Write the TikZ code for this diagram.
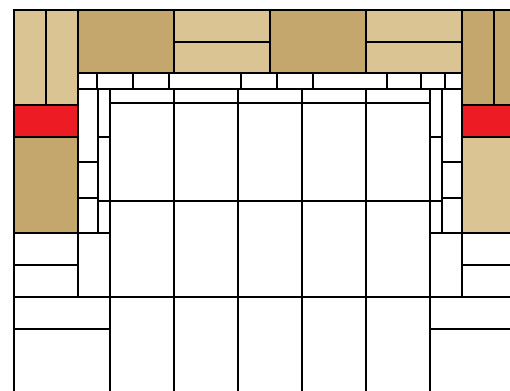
\documentclass[tikz,border=0pt]{standalone}
\definecolor{brownT}{RGB}{196,167,108}
\definecolor{lightT}{RGB}{218,196,148}
\definecolor{redT}{RGB}{237,28,36}
\begin{document}
\begin{tikzpicture}[x=1pt,y=-1pt,line width=2.4pt,
  ln/.style={draw=black,line join=miter}]
\useasboundingbox (0,0) rectangle (510,390);
\clip (0,0) rectangle (510,390);
% fills
\fill[lightT] (14,10) rectangle (78,105);
\fill[redT] (14,105) rectangle (78,137);
\fill[brownT] (14,137) rectangle (78,233);
\fill[brownT] (78,10) rectangle (174,73);
\fill[lightT] (174,10) rectangle (270,73);
\fill[brownT] (270,10) rectangle (366,73);
\fill[lightT] (366,10) rectangle (462,73);
\fill[brownT] (462,10) rectangle (526,105);
\fill[redT] (462,105) rectangle (526,137);
\fill[lightT] (462,137) rectangle (526,233);
% outer frame
\draw[ln] (14,400) -- (14,10) -- (530,10);
% tan columns
\draw[ln] (46,10) -- (46,105);
\draw[ln] (494,10) -- (494,105);
\draw[ln] (78,10) -- (78,297);
\draw[ln] (462,10) -- (462,297);
\draw[ln] (14,105) -- (78,105);
\draw[ln] (14,137) -- (78,137);
\draw[ln] (462,105) -- (526,105);
\draw[ln] (462,137) -- (526,137);
% top tan row
\foreach \x in {174,270,366} \draw[ln] (\x,10) -- (\x,73);
\draw[ln] (174,42) -- (270,42);
\draw[ln] (366,42) -- (462,42);
\draw[ln] (78,73) -- (462,73);
% small brick row
\foreach \x in {97,133,169,241,277,313,387,421,445} \draw[ln] (\x,73) -- (\x,89);
\draw[ln] (78,89) -- (462,89);
% side brick columns
\draw[ln] (98,89) -- (98,233);
\draw[ln] (442,89) -- (442,233);
\draw[ln] (78,162) -- (98,162);
\draw[ln] (78,198) -- (98,198);
\draw[ln] (442,162) -- (462,162);
\draw[ln] (442,198) -- (462,198);
\draw[ln] (98,137) -- (110,137);
\draw[ln] (430,137) -- (442,137);
% grid
\foreach \x in {110,174,238,302,366,430} \draw[ln] (\x,89) -- (\x,400);
\draw[ln] (110,103) -- (430,103);
\draw[ln] (98,201) -- (442,201);
% lower bricks
\draw[ln] (14,233) -- (110,233);
\draw[ln] (430,233) -- (526,233);
\draw[ln] (14,265) -- (78,265);
\draw[ln] (462,265) -- (526,265);
\draw[ln] (14,297) -- (526,297);
\draw[ln] (14,329) -- (110,329);
\draw[ln] (430,329) -- (526,329);
\end{tikzpicture}
\end{document}
